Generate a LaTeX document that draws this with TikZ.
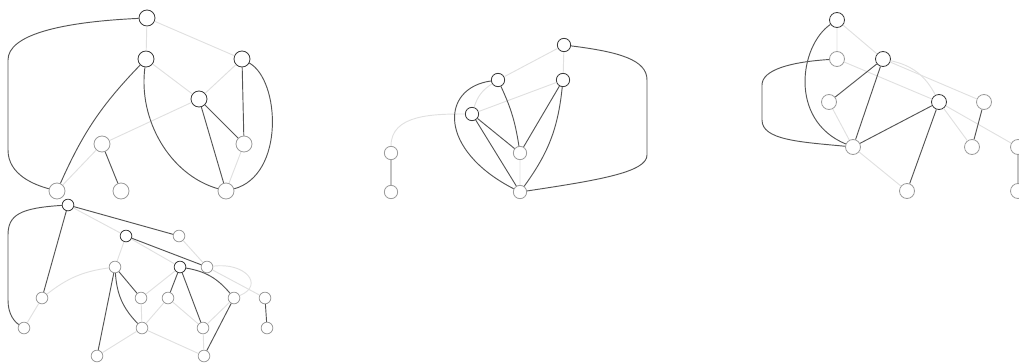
\documentclass[tikz,border=0pt]{standalone}
\usepackage{tikz}
\usetikzlibrary{positioning}
\definecolor{edgedark}{HTML}{555555}
\definecolor{edgelight}{HTML}{E0E0E0}
\definecolor{ringdark}{HTML}{3A3A3A}
\definecolor{ringlight}{HTML}{9C9C9C}

\tikzset{
  vtx/.style={circle, draw=ringlight, fill=white, line width=0.7pt, inner sep=0pt},
  vtxd/.style={vtx, draw=ringdark},
  dk/.style={draw=edgedark, line width=0.8pt},
  lt/.style={draw=edgelight, line width=0.8pt}
}

\begin{document}
\begin{tikzpicture}[x=0.03cm, y=-0.03cm]
  \useasboundingbox (0,0) rectangle (1019,362);

  % first graph
  \begin{scope}[every node/.append style={minimum size=0.48cm}]
    \node[vtxd] (a1) at (147,18) {};
    \node[vtxd] (b1) at (146,59) {};
    \node[vtxd] (c1) at (242,59) {};
    \node[vtxd] (d1) at (199,99) {};
    \node[vtx] (e1) at (102,144) {};
    \node[vtx] (f1) at (244,144) {};
    \node[vtx] (g1) at (57,191) {};
    \node[vtx] (h1) at (121,191) {};
    \node[vtx] (i1) at (226,191) {};
  \end{scope}
  \draw[lt] (a1) -- (b1) (a1) -- (c1) (b1) -- (d1) (c1) -- (d1)
            (d1) -- (e1) (e1) -- (g1) (f1) -- (i1);
  \draw[dk] (a1) .. controls (60,22) and (8,35) .. (8,60) -- (8,150)
            .. controls (8,175) and (35,185) .. (g1);
  \draw[dk] (b1) to[bend right=10] (g1);
  \draw[dk] (b1) .. controls (138,120) and (170,175) .. (i1);
  \draw[dk] (c1) .. controls (280,80) and (285,175) .. (i1);
  \draw[dk] (c1) -- (f1) (d1) -- (f1) (d1) -- (i1) (e1) -- (h1);

  % second graph
  \begin{scope}[every node/.append style={minimum size=0.35cm}]
    \node[vtxd] (A2) at (68,205) {};
    \node[vtxd] (B2) at (126,236) {};
    \node[vtx] (C2) at (179,236) {};
    \node[vtx] (D2) at (115,267) {};
    \node[vtxd] (E2) at (180,267) {};
    \node[vtx] (F2) at (207,267) {};
    \node[vtx] (G2) at (42,298) {};
    \node[vtx] (H2) at (141,298) {};
    \node[vtx] (I2) at (168,298) {};
    \node[vtx] (J2) at (234,298) {};
    \node[vtx] (K2) at (265,298) {};
    \node[vtx] (L2) at (24,328) {};
    \node[vtx] (M2) at (142,328) {};
    \node[vtx] (N2) at (203,328) {};
    \node[vtx] (O2) at (267,328) {};
    \node[vtx] (P2) at (97,356) {};
    \node[vtx] (Q2) at (204,356) {};
  \end{scope}
  \draw[lt] (A2) -- (B2) (B2) -- (D2) (B2) -- (E2) (C2) -- (F2)
            (G2) -- (L2) (H2) -- (E2) (H2) -- (M2) (I2) -- (M2)
            (I2) -- (N2) (J2) -- (N2) (M2) -- (P2) (M2) -- (Q2)
            (N2) -- (Q2) (F2) -- (K2);
  \draw[lt] (D2) to[bend right=15] (G2);
  \draw[lt] (F2) .. controls (245,262) and (265,285) .. (J2);
  \draw[dk] (A2) .. controls (20,208) and (8,215) .. (8,235) -- (8,300)
            .. controls (8,315) and (15,322) .. (L2);
  \draw[dk] (A2) -- (G2) (A2) -- (C2) (B2) -- (F2) (D2) -- (H2)
            (D2) -- (P2) (E2) -- (I2) (E2) -- (N2) (J2) -- (Q2)
            (K2) -- (O2);
  \draw[dk] (D2) to[bend right=20] (M2);
  \draw[dk] (E2) to[bend left=20] (J2);

  % third graph
  \begin{scope}[every node/.append style={minimum size=0.4cm}]
    \node[vtxd] (a3) at (564,45) {};
    \node[vtxd] (b3) at (498,80) {};
    \node[vtxd] (c3) at (563,80) {};
    \node[vtxd] (d3) at (472,114) {};
    \node[vtx] (e3) at (520,153) {};
    \node[vtx] (f3) at (391,153) {};
    \node[vtx] (g3) at (391,192) {};
    \node[vtx] (h3) at (520,192) {};
  \end{scope}
  \draw[lt] (a3) -- (b3) (a3) -- (c3) (c3) -- (d3) (e3) -- (h3);
  \draw[lt] (b3) to[bend right=20] (d3);
  \draw[lt] (d3) to[out=180, in=90] (f3);
  \draw[dk] (a3) .. controls (620,52) and (647,60) .. (647,80) -- (647,155)
            .. controls (647,172) and (600,180) .. (h3);
  \draw[dk] (b3) .. controls (440,88) and (438,150) .. (h3);
  \draw[dk] (b3) to[bend left=8] (e3);
  \draw[dk] (c3) to[bend left=15] (h3);
  \draw[dk] (c3) -- (e3) (d3) -- (e3) (d3) -- (h3) (f3) -- (g3);

  % fourth graph
  \begin{scope}[every node/.append style={minimum size=0.45cm}]
    \node[vtxd] (a4) at (837,20) {};
    \node[vtx] (b4) at (837,59) {};
    \node[vtxd] (c4) at (883,59) {};
    \node[vtx] (d4) at (829,102) {};
    \node[vtxd] (e4) at (939,102) {};
    \node[vtx] (f4) at (984,102) {};
    \node[vtx] (g4) at (853,147) {};
    \node[vtx] (h4) at (972,147) {};
    \node[vtx] (i4) at (1018,147) {};
    \node[vtx] (j4) at (907,191) {};
    \node[vtx] (k4) at (1018,191) {};
  \end{scope}
  \draw[lt] (a4) -- (b4) (a4) -- (c4) (b4) -- (e4) (c4) -- (f4)
            (d4) -- (g4) (e4) -- (h4) (e4) -- (i4) (g4) -- (j4);
  \draw[lt] (c4) to[bend left=25] (e4);
  \draw[dk] (a4) .. controls (800,45) and (788,120) .. (g4);
  \draw[dk] (b4) .. controls (790,62) and (762,70) .. (762,85) -- (762,120)
            .. controls (762,140) and (800,142) .. (g4);
  \draw[dk] (c4) -- (d4) (c4) -- (g4) (e4) -- (g4) (e4) -- (j4)
            (f4) -- (h4) (i4) -- (k4);
\end{tikzpicture}
\end{document}
